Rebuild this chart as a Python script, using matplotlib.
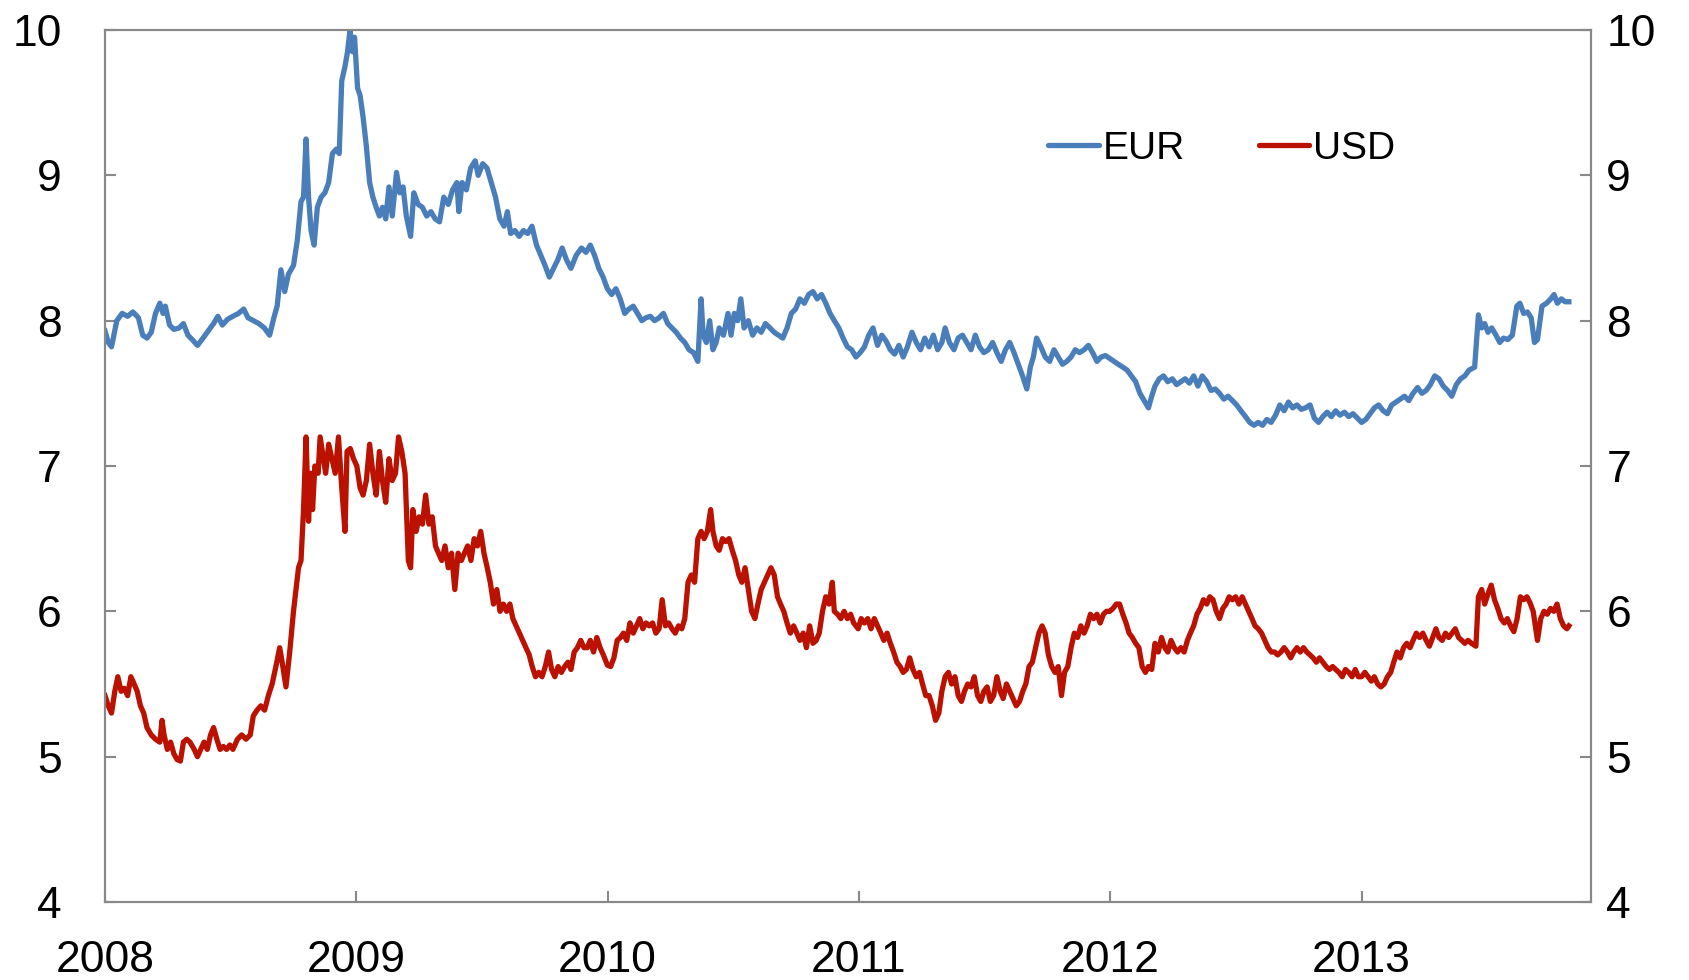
import matplotlib
matplotlib.use("Agg")
import matplotlib.pyplot as plt

plt.rcParams['font.family'] = ['Liberation Sans', 'DejaVu Sans']

# EUR, decimal year / value
eur_t = [2008.000, 2008.013, 2008.026, 2008.047, 2008.068, 2008.090, 2008.111, 2008.133, 2008.150, 2008.167,
         2008.184, 2008.201, 2008.218, 2008.231, 2008.240, 2008.257, 2008.274, 2008.295, 2008.312, 2008.330,
         2008.347, 2008.368, 2008.390, 2008.411, 2008.432, 2008.449, 2008.467, 2008.488, 2008.509, 2008.531,
         2008.552, 2008.569, 2008.591, 2008.612, 2008.634, 2008.655, 2008.672, 2008.685, 2008.700, 2008.715,
         2008.730, 2008.750, 2008.765, 2008.780, 2008.790, 2008.800, 2008.810, 2008.820, 2008.832, 2008.845,
         2008.860, 2008.875, 2008.890, 2008.905, 2008.920, 2008.932, 2008.942, 2008.955, 2008.965, 2008.975,
         2008.985, 2008.993, 2009.005, 2009.015, 2009.027, 2009.040, 2009.053, 2009.066, 2009.079, 2009.092,
         2009.104, 2009.117, 2009.130, 2009.143, 2009.160, 2009.173, 2009.186, 2009.199, 2009.216, 2009.229,
         2009.246, 2009.263, 2009.280, 2009.297, 2009.314, 2009.331, 2009.348, 2009.366, 2009.383, 2009.400,
         2009.408, 2009.421, 2009.438, 2009.455, 2009.473, 2009.485, 2009.503, 2009.520, 2009.537, 2009.554,
         2009.571, 2009.588, 2009.601, 2009.614, 2009.631, 2009.648, 2009.665, 2009.682, 2009.699, 2009.717,
         2009.734, 2009.751, 2009.768, 2009.785, 2009.802, 2009.819, 2009.836, 2009.854, 2009.875, 2009.896,
         2009.914, 2009.931, 2009.948, 2009.965, 2009.982, 2009.999,
         2010.016, 2010.033, 2010.050, 2010.068, 2010.085, 2010.102, 2010.119, 2010.136, 2010.153, 2010.170,
         2010.187, 2010.205, 2010.222, 2010.239, 2010.256, 2010.273, 2010.290, 2010.307, 2010.324, 2010.342,
         2010.359, 2010.372, 2010.380, 2010.393, 2010.406, 2010.419, 2010.432, 2010.444, 2010.461, 2010.479,
         2010.491, 2010.504, 2010.517, 2010.530, 2010.543, 2010.560, 2010.577, 2010.594, 2010.611, 2010.628,
         2010.646, 2010.663, 2010.680, 2010.697, 2010.714, 2010.731, 2010.748, 2010.765, 2010.783, 2010.800,
         2010.817, 2010.834, 2010.851, 2010.868, 2010.885, 2010.902, 2010.920, 2010.937, 2010.954, 2010.971,
         2010.988,
         2011.005, 2011.022, 2011.039, 2011.056, 2011.074, 2011.091, 2011.108, 2011.125, 2011.142, 2011.159,
         2011.176, 2011.193, 2011.211, 2011.228, 2011.245, 2011.262, 2011.279, 2011.296, 2011.313, 2011.330,
         2011.343, 2011.360, 2011.378, 2011.395, 2011.412, 2011.429, 2011.446, 2011.463, 2011.480, 2011.497,
         2011.515, 2011.532, 2011.549, 2011.566, 2011.583, 2011.600, 2011.617, 2011.634, 2011.651, 2011.668,
         2011.682, 2011.694, 2011.707, 2011.724, 2011.741, 2011.759, 2011.776, 2011.793, 2011.810, 2011.827,
         2011.844, 2011.861, 2011.878, 2011.896, 2011.913, 2011.930, 2011.947, 2011.964, 2011.981, 2011.998,
         2012.015, 2012.032, 2012.050, 2012.067, 2012.084, 2012.101, 2012.118, 2012.135, 2012.152, 2012.165,
         2012.178, 2012.195, 2012.212, 2012.229, 2012.247, 2012.264, 2012.281, 2012.298, 2012.315, 2012.332,
         2012.349, 2012.366, 2012.384, 2012.401, 2012.418, 2012.435, 2012.452, 2012.469, 2012.486, 2012.503,
         2012.520, 2012.538, 2012.555, 2012.572, 2012.589, 2012.606, 2012.623, 2012.640, 2012.658, 2012.675,
         2012.692, 2012.709, 2012.726, 2012.743, 2012.760, 2012.777, 2012.795, 2012.812, 2012.829, 2012.846,
         2012.863, 2012.880, 2012.897, 2012.914, 2012.932, 2012.949, 2012.966, 2012.983, 2013.000,
         2013.017, 2013.034, 2013.051, 2013.068, 2013.086, 2013.103, 2013.120, 2013.137, 2013.154, 2013.171,
         2013.188, 2013.205, 2013.223, 2013.240, 2013.257, 2013.274, 2013.291, 2013.308, 2013.325, 2013.342,
         2013.359, 2013.377, 2013.394, 2013.411, 2013.428, 2013.450, 2013.465, 2013.478, 2013.490, 2013.503,
         2013.518, 2013.535, 2013.550, 2013.565, 2013.582, 2013.600, 2013.618, 2013.630, 2013.645, 2013.660,
         2013.675, 2013.688, 2013.700, 2013.718, 2013.736, 2013.753, 2013.766, 2013.779, 2013.795, 2013.810,
         2013.825]
eur_v = [7.93, 7.85, 7.82, 8.00, 8.05, 8.03, 8.06, 8.02, 7.90, 7.88,
         7.92, 8.05, 8.12, 8.05, 8.10, 7.97, 7.94, 7.95, 7.98, 7.90,
         7.87, 7.83, 7.88, 7.93, 7.98, 8.03, 7.97, 8.01, 8.03, 8.05,
         8.08, 8.02, 8.00, 7.98, 7.95, 7.90, 8.02, 8.10, 8.35, 8.20,
         8.32, 8.38, 8.55, 8.82, 8.85, 9.25, 8.85, 8.62, 8.52, 8.78,
         8.85, 8.88, 8.95, 9.15, 9.18, 9.15, 9.65, 9.75, 9.85, 10.0,
         9.85, 9.95, 9.60, 9.55, 9.40, 9.20, 8.95, 8.85, 8.78, 8.72,
         8.78, 8.70, 8.92, 8.72, 9.02, 8.88, 8.92, 8.72, 8.58, 8.88,
         8.80, 8.78, 8.72, 8.75, 8.70, 8.68, 8.85, 8.80, 8.90, 8.95,
         8.75, 8.95, 8.90, 9.05, 9.10, 9.00, 9.08, 9.05, 8.95, 8.85,
         8.70, 8.65, 8.75, 8.60, 8.62, 8.58, 8.62, 8.60, 8.65, 8.52,
         8.45, 8.38, 8.30, 8.36, 8.42, 8.50, 8.42, 8.36, 8.45, 8.50,
         8.47, 8.52, 8.45, 8.36, 8.30, 8.22,
         8.18, 8.22, 8.15, 8.05, 8.08, 8.10, 8.05, 8.00, 8.02, 8.03,
         8.00, 8.02, 8.05, 7.98, 7.95, 7.92, 7.88, 7.85, 7.80, 7.78,
         7.72, 8.15, 7.90, 7.85, 8.00, 7.80, 7.85, 7.95, 7.90, 8.05,
         7.90, 8.05, 8.00, 8.15, 7.95, 8.00, 7.90, 7.95, 7.92, 7.98,
         7.95, 7.92, 7.90, 7.88, 7.95, 8.05, 8.08, 8.15, 8.12, 8.18,
         8.20, 8.15, 8.18, 8.12, 8.05, 8.00, 7.95, 7.88, 7.82, 7.80,
         7.75,
         7.78, 7.82, 7.90, 7.95, 7.83, 7.90, 7.86, 7.80, 7.77, 7.83,
         7.75, 7.82, 7.92, 7.85, 7.80, 7.88, 7.82, 7.90, 7.80, 7.85,
         7.95, 7.85, 7.80, 7.88, 7.90, 7.85, 7.80, 7.90, 7.82, 7.78,
         7.80, 7.85, 7.78, 7.72, 7.80, 7.85, 7.78, 7.70, 7.62, 7.53,
         7.68, 7.75, 7.88, 7.82, 7.75, 7.72, 7.80, 7.75, 7.70, 7.72,
         7.75, 7.80, 7.78, 7.80, 7.83, 7.78, 7.72, 7.75, 7.76, 7.74,
         7.72, 7.70, 7.68, 7.66, 7.62, 7.58, 7.50, 7.45, 7.40, 7.48,
         7.55, 7.60, 7.62, 7.58, 7.60, 7.56, 7.58, 7.60, 7.57, 7.62,
         7.55, 7.62, 7.58, 7.52, 7.53, 7.50, 7.46, 7.48, 7.45, 7.42,
         7.38, 7.34, 7.30, 7.28, 7.30, 7.28, 7.32, 7.30, 7.35, 7.42,
         7.38, 7.44, 7.40, 7.42, 7.39, 7.40, 7.42, 7.33, 7.30, 7.34,
         7.37, 7.34, 7.38, 7.35, 7.37, 7.34, 7.36, 7.33, 7.30,
         7.32, 7.36, 7.40, 7.42, 7.38, 7.36, 7.42, 7.44, 7.46, 7.48,
         7.45, 7.50, 7.54, 7.50, 7.52, 7.56, 7.62, 7.60, 7.55, 7.52,
         7.48, 7.56, 7.60, 7.62, 7.66, 7.68, 8.04, 7.95, 7.98, 7.92,
         7.95, 7.90, 7.85, 7.88, 7.87, 7.90, 8.10, 8.12, 8.05, 8.06,
         8.02, 7.85, 7.87, 8.10, 8.12, 8.15, 8.18, 8.12, 8.15, 8.13,
         8.13]

# USD, decimal year / value
usd_t = [2008.000, 2008.013, 2008.026, 2008.039, 2008.051, 2008.064, 2008.077, 2008.090, 2008.103, 2008.116,
         2008.128, 2008.141, 2008.154, 2008.167, 2008.184, 2008.201, 2008.218, 2008.227, 2008.235, 2008.248,
         2008.261, 2008.274, 2008.287, 2008.300, 2008.312, 2008.325, 2008.338, 2008.355, 2008.368, 2008.381,
         2008.394, 2008.407, 2008.420, 2008.432, 2008.445, 2008.458, 2008.471, 2008.484, 2008.497, 2008.509,
         2008.527, 2008.544, 2008.561, 2008.578, 2008.590, 2008.605, 2008.620, 2008.635, 2008.650, 2008.665,
         2008.680, 2008.695, 2008.705, 2008.720, 2008.735, 2008.750, 2008.760, 2008.770, 2008.780, 2008.790,
         2008.800, 2008.810, 2008.818, 2008.826, 2008.835, 2008.848, 2008.856, 2008.869, 2008.878, 2008.890,
         2008.903, 2008.916, 2008.929, 2008.942, 2008.955, 2008.963, 2008.976, 2008.989,
         2009.002, 2009.015, 2009.027, 2009.040, 2009.053, 2009.066, 2009.079, 2009.092, 2009.104, 2009.117,
         2009.130, 2009.143, 2009.156, 2009.168, 2009.181, 2009.194, 2009.207, 2009.216, 2009.225, 2009.238,
         2009.250, 2009.263, 2009.276, 2009.289, 2009.302, 2009.315, 2009.327, 2009.340, 2009.353, 2009.366,
         2009.379, 2009.392, 2009.405, 2009.418, 2009.430, 2009.443, 2009.456, 2009.469, 2009.482, 2009.495,
         2009.508, 2009.521, 2009.533, 2009.546, 2009.559, 2009.572, 2009.585, 2009.598, 2009.611, 2009.623,
         2009.636, 2009.649, 2009.662, 2009.675, 2009.688, 2009.700, 2009.713, 2009.726, 2009.739, 2009.752,
         2009.765, 2009.777, 2009.790, 2009.803, 2009.816, 2009.829, 2009.842, 2009.854, 2009.867, 2009.880,
         2009.893, 2009.906, 2009.919, 2009.931, 2009.944, 2009.957, 2009.970, 2009.983, 2009.999,
         2010.012, 2010.025, 2010.038, 2010.051, 2010.063, 2010.076, 2010.089, 2010.102, 2010.115, 2010.128,
         2010.140, 2010.153, 2010.166, 2010.179, 2010.192, 2010.205, 2010.217, 2010.230, 2010.243, 2010.256,
         2010.269, 2010.282, 2010.295, 2010.307, 2010.320, 2010.333, 2010.346, 2010.359, 2010.372, 2010.384,
         2010.397, 2010.410, 2010.419, 2010.432, 2010.444, 2010.457, 2010.470, 2010.483, 2010.496, 2010.509,
         2010.522, 2010.534, 2010.547, 2010.560, 2010.573, 2010.586, 2010.598, 2010.611, 2010.624, 2010.637,
         2010.650, 2010.663, 2010.676, 2010.688, 2010.701, 2010.714, 2010.727, 2010.740, 2010.753, 2010.765,
         2010.778, 2010.791, 2010.804, 2010.817, 2010.830, 2010.842, 2010.855, 2010.868, 2010.881, 2010.894,
         2010.902, 2010.915, 2010.928, 2010.941, 2010.954, 2010.967, 2010.979, 2010.997,
         2011.009, 2011.022, 2011.035, 2011.048, 2011.061, 2011.074, 2011.087, 2011.099, 2011.112, 2011.125,
         2011.138, 2011.151, 2011.164, 2011.176, 2011.189, 2011.202, 2011.215, 2011.228, 2011.241, 2011.253,
         2011.266, 2011.279, 2011.292, 2011.305, 2011.318, 2011.330, 2011.343, 2011.356, 2011.369, 2011.382,
         2011.395, 2011.408, 2011.420, 2011.433, 2011.446, 2011.459, 2011.472, 2011.485, 2011.497, 2011.510,
         2011.523, 2011.536, 2011.549, 2011.562, 2011.574, 2011.587, 2011.600, 2011.613, 2011.626, 2011.639,
         2011.652, 2011.664, 2011.677, 2011.690, 2011.703, 2011.716, 2011.729, 2011.741, 2011.754, 2011.767,
         2011.780, 2011.793, 2011.806, 2011.818, 2011.831, 2011.844, 2011.857, 2011.870, 2011.883, 2011.896,
         2011.908, 2011.921, 2011.934, 2011.947, 2011.960, 2011.973, 2011.985, 2011.998,
         2012.011, 2012.024, 2012.037, 2012.050, 2012.063, 2012.075, 2012.088, 2012.101, 2012.114, 2012.127,
         2012.140, 2012.152, 2012.165, 2012.178, 2012.191, 2012.204, 2012.217, 2012.229, 2012.242, 2012.255,
         2012.268, 2012.281, 2012.294, 2012.307, 2012.319, 2012.332, 2012.345, 2012.358, 2012.371, 2012.384,
         2012.396, 2012.409, 2012.422, 2012.435, 2012.448, 2012.461, 2012.473, 2012.486, 2012.499, 2012.512,
         2012.525, 2012.538, 2012.551, 2012.564, 2012.576, 2012.589, 2012.602, 2012.615, 2012.628, 2012.641,
         2012.654, 2012.666, 2012.679, 2012.692, 2012.705, 2012.718, 2012.730, 2012.743, 2012.756, 2012.769,
         2012.782, 2012.795, 2012.807, 2012.820, 2012.833, 2012.846, 2012.859, 2012.872, 2012.885, 2012.897,
         2012.910, 2012.923, 2012.936, 2012.949, 2012.962, 2012.975, 2012.987,
         2013.000, 2013.013, 2013.026, 2013.039, 2013.051, 2013.064, 2013.077, 2013.090, 2013.103, 2013.116,
         2013.128, 2013.141, 2013.154, 2013.167, 2013.180, 2013.193, 2013.205, 2013.218, 2013.231, 2013.244,
         2013.257, 2013.270, 2013.283, 2013.296, 2013.308, 2013.321, 2013.334, 2013.347, 2013.360, 2013.373,
         2013.386, 2013.399, 2013.411, 2013.424, 2013.437, 2013.455, 2013.465, 2013.478, 2013.490, 2013.503,
         2013.516, 2013.529, 2013.542, 2013.555, 2013.568, 2013.580, 2013.593, 2013.606, 2013.619, 2013.632,
         2013.645, 2013.658, 2013.670, 2013.683, 2013.700, 2013.713, 2013.726, 2013.739, 2013.752, 2013.765,
         2013.778, 2013.791, 2013.804, 2013.817, 2013.825]
usd_v = [5.42, 5.35, 5.30, 5.45, 5.55, 5.45, 5.47, 5.42, 5.55, 5.50,
         5.45, 5.35, 5.30, 5.20, 5.15, 5.12, 5.10, 5.25, 5.15, 5.05,
         5.10, 5.02, 4.98, 4.97, 5.10, 5.12, 5.10, 5.05, 5.00, 5.05,
         5.10, 5.05, 5.15, 5.20, 5.12, 5.05, 5.07, 5.05, 5.08, 5.05,
         5.12, 5.15, 5.12, 5.15, 5.28, 5.32, 5.35, 5.32, 5.42, 5.50,
         5.62, 5.75, 5.65, 5.48, 5.72, 6.00, 6.15, 6.30, 6.35, 6.70,
         7.20, 6.62, 6.95, 6.70, 7.00, 6.95, 7.20, 7.05, 6.95, 7.15,
         7.05, 6.95, 7.20, 6.85, 6.55, 7.10, 7.12, 7.05,
         7.00, 6.85, 6.80, 6.90, 7.15, 6.95, 6.80, 7.10, 6.90, 6.75,
         7.05, 6.90, 6.95, 7.20, 7.10, 6.95, 6.35, 6.30, 6.70, 6.55,
         6.65, 6.60, 6.80, 6.60, 6.65, 6.45, 6.40, 6.35, 6.45, 6.30,
         6.40, 6.15, 6.40, 6.35, 6.40, 6.45, 6.35, 6.50, 6.45, 6.55,
         6.40, 6.30, 6.20, 6.05, 6.15, 6.00, 6.05, 6.00, 6.05, 5.95,
         5.90, 5.85, 5.80, 5.75, 5.70, 5.62, 5.55, 5.58, 5.55, 5.62,
         5.72, 5.60, 5.55, 5.62, 5.58, 5.62, 5.65, 5.60, 5.72, 5.75,
         5.80, 5.75, 5.75, 5.80, 5.72, 5.82, 5.75, 5.70, 5.63,
         5.62, 5.68, 5.80, 5.82, 5.85, 5.80, 5.92, 5.85, 5.90, 5.95,
         5.88, 5.92, 5.90, 5.92, 5.85, 5.88, 6.08, 5.90, 5.92, 5.88,
         5.85, 5.90, 5.88, 5.95, 6.20, 6.25, 6.20, 6.50, 6.55, 6.50,
         6.55, 6.70, 6.55, 6.45, 6.42, 6.50, 6.48, 6.50, 6.42, 6.35,
         6.25, 6.20, 6.30, 6.15, 6.00, 5.95, 6.05, 6.15, 6.20, 6.25,
         6.30, 6.25, 6.10, 6.05, 6.00, 5.92, 5.85, 5.90, 5.85, 5.80,
         5.85, 5.75, 5.90, 5.78, 5.80, 5.85, 6.00, 6.10, 6.05, 6.20,
         6.00, 5.98, 5.95, 6.00, 5.95, 5.98, 5.92, 5.88,
         5.95, 5.92, 5.95, 5.88, 5.95, 5.90, 5.85, 5.80, 5.85, 5.78,
         5.72, 5.65, 5.62, 5.58, 5.60, 5.68, 5.60, 5.55, 5.58, 5.50,
         5.42, 5.42, 5.35, 5.25, 5.30, 5.45, 5.55, 5.58, 5.50, 5.55,
         5.42, 5.38, 5.45, 5.50, 5.48, 5.55, 5.42, 5.38, 5.45, 5.48,
         5.38, 5.42, 5.55, 5.45, 5.40, 5.50, 5.45, 5.40, 5.35, 5.38,
         5.45, 5.50, 5.62, 5.65, 5.75, 5.85, 5.90, 5.85, 5.70, 5.62,
         5.58, 5.62, 5.42, 5.58, 5.62, 5.75, 5.85, 5.82, 5.90, 5.85,
         5.90, 5.98, 5.95, 5.98, 5.92, 5.98, 6.00, 6.00,
         6.02, 6.05, 6.05, 5.98, 5.92, 5.85, 5.82, 5.78, 5.75, 5.62,
         5.58, 5.62, 5.60, 5.78, 5.72, 5.82, 5.75, 5.72, 5.80, 5.75,
         5.72, 5.75, 5.72, 5.80, 5.85, 5.90, 5.98, 6.02, 6.08, 6.05,
         6.10, 6.08, 6.00, 5.95, 6.02, 6.05, 6.10, 6.08, 6.10, 6.05,
         6.10, 6.05, 6.00, 5.95, 5.90, 5.88, 5.85, 5.80, 5.75, 5.72,
         5.72, 5.70, 5.72, 5.75, 5.72, 5.68, 5.72, 5.75, 5.72, 5.75,
         5.72, 5.70, 5.68, 5.65, 5.68, 5.65, 5.62, 5.60, 5.62, 5.60,
         5.58, 5.55, 5.60, 5.58, 5.55, 5.60, 5.55,
         5.55, 5.58, 5.55, 5.52, 5.55, 5.50, 5.48, 5.50, 5.55, 5.58,
         5.65, 5.72, 5.68, 5.75, 5.78, 5.75, 5.80, 5.85, 5.82, 5.85,
         5.80, 5.76, 5.82, 5.88, 5.82, 5.80, 5.85, 5.82, 5.85, 5.88,
         5.82, 5.80, 5.78, 5.80, 5.78, 5.76, 6.10, 6.15, 6.05, 6.12,
         6.18, 6.08, 6.02, 5.95, 5.92, 5.95, 5.90, 5.86, 5.95, 6.10,
         6.08, 6.10, 6.06, 6.00, 5.80, 5.95, 6.00, 5.98, 6.02, 6.00,
         6.05, 5.95, 5.90, 5.88, 5.90]

years = [2008, 2009, 2010, 2011, 2012, 2013]
yticks = [4, 5, 6, 7, 8, 9, 10]

eur_color = '#4A7EBB'
usd_color = '#BB1100'
axis_gray = '#888888'

fig = plt.figure(figsize=(16.9, 9.8), dpi=100)
ax = fig.add_axes([105 / 1690, 1 - 902 / 980, (1591 - 105) / 1690, (902 - 30) / 980])

ax.plot(eur_t, eur_v, color=eur_color, lw=3.8, label='EUR', solid_joinstyle='round')
ax.plot(usd_t, usd_v, color=usd_color, lw=3.8, label='USD', solid_joinstyle='round')

ax.set_xlim(2008, 2013.913)
ax.set_ylim(4, 10)
ax.set_xticks(years)
ax.set_xticklabels([str(y) for y in years])
ax.set_yticks(yticks)

ax2 = ax.twinx()
ax2.set_ylim(4, 10)
ax2.set_yticks(yticks)

for a in (ax, ax2):
    for s in a.spines.values():
        s.set_color(axis_gray)
        s.set_linewidth(1.5)

ax.tick_params(axis='x', direction='in', length=8, width=1.5, color=axis_gray,
               labelsize=32, pad=27, top=False)
ax.tick_params(axis='y', direction='in', length=8, width=1.5, color=axis_gray,
               labelsize=32, pad=31, right=False)
ax2.tick_params(axis='y', direction='in', length=8, width=1.5, color=axis_gray,
                labelsize=32, pad=11)

leg = ax.legend(loc='center left', bbox_to_anchor=(1048 / 1690, 1 - 149 / 980),
                bbox_transform=fig.transFigure, ncol=2, frameon=False,
                fontsize=28, handlelength=1.3, handletextpad=0.1,
                columnspacing=1.9, borderpad=0, borderaxespad=0)
for h in leg.get_lines():
    h.set_solid_capstyle('round')

fig.savefig('out.png', dpi=100)
